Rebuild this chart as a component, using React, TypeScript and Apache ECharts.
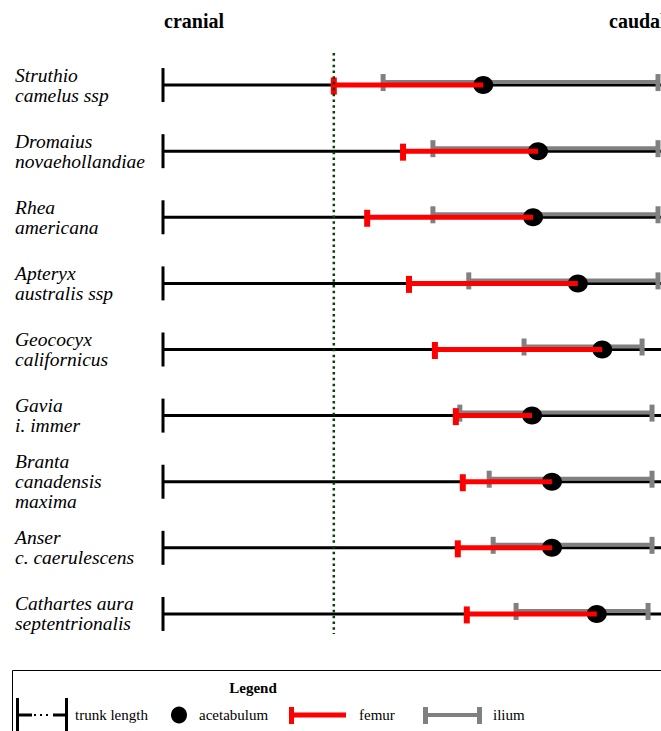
import React, { useEffect, useRef } from "react";
import * as echarts from "echarts";

// Species (top to bottom)
const species = [
  "Struthio\ncamelus ssp",
  "Dromaius\nnovaehollandiae",
  "Rhea\namericana",
  "Apteryx\naustralis ssp",
  "Geococyx\ncalifornicus",
  "Gavia\ni. immer",
  "Branta\ncanadensis\nmaxima",
  "Anser\nc. caerulescens",
  "Cathartes aura\nseptentrionalis",
];

// Positions as a proportion of trunk length (0 = cranial end)
const femurStart = [0.343, 0.482, 0.41, 0.494, 0.546, 0.588, 0.602, 0.592, 0.61];
const acetabulum = [0.643, 0.753, 0.743, 0.833, 0.882, 0.741, 0.781, 0.781, 0.871];
const iliumStart = [0.442, 0.542, 0.542, 0.614, 0.725, 0.596, 0.655, 0.663, 0.709];
const iliumEnd = [0.994, 0.994, 0.994, 0.994, 0.962, 0.982, 0.982, 0.982, 0.974];
const dividerX = 0.343;
const trunkEnd = 1.05;

const SERIF = "'Liberation Serif', 'Times New Roman', serif";

export default function App() {
  const ref = useRef<HTMLDivElement>(null);
  useEffect(() => {
    if (!ref.current) return;
    const chart = echarts.init(ref.current, null, { renderer: "svg" });
    const rows = species.map((_, i) => [i, femurStart[i], acetabulum[i], iliumStart[i], iliumEnd[i]]);

    const renderRow = (params: any, api: any) => {
      const r = api.value(0);
      const c = (x: number) => api.coord([x, r]);
      const y = c(0)[1];
      const x0 = c(0)[0];
      const xe = c(trunkEnd)[0];
      const fs = c(api.value(1))[0];
      const ac = c(api.value(2))[0];
      const is = c(api.value(3))[0];
      const ie = c(api.value(4))[0];
      const gy = y - 3;
      return {
        type: "group",
        children: [
          { type: "line", shape: { x1: x0, y1: y, x2: xe, y2: y }, style: { stroke: "#000", lineWidth: 3 } },
          { type: "line", shape: { x1: x0, y1: y - 17, x2: x0, y2: y + 17 }, style: { stroke: "#000", lineWidth: 3 } },
          { type: "line", shape: { x1: is, y1: gy, x2: ie, y2: gy }, style: { stroke: "#808080", lineWidth: 4 } },
          { type: "rect", shape: { x: is - 2.5, y: gy - 8, width: 5, height: 17 }, style: { fill: "#808080" } },
          { type: "rect", shape: { x: ie - 2.5, y: gy - 8, width: 5, height: 17 }, style: { fill: "#808080" } },
          { type: "ellipse", shape: { cx: ac, cy: y, rx: 10, ry: 9 }, style: { fill: "#000" } },
          { type: "line", shape: { x1: fs, y1: y, x2: ac, y2: y }, style: { stroke: "#ff0000", lineWidth: 5 } },
          { type: "rect", shape: { x: fs - 3, y: y - 7.5, width: 6, height: 17 }, style: { fill: "#ff0000" } },
        ],
      };
    };

    const renderDivider = (params: any, api: any) => {
      const x = api.value(0);
      const top = api.coord([x, 0]);
      const bot = api.coord([x, species.length - 1]);
      return {
        type: "line",
        shape: { x1: top[0], y1: top[1] - 32, x2: bot[0], y2: bot[1] + 20 },
        style: { stroke: "#0a400a", lineWidth: 2.5, lineDash: [2.5, 3.3] },
      };
    };

    const lt = 715;
    chart.setOption({
      animation: false,
      backgroundColor: "#fff",
      grid: { left: 163, right: 0, top: 52, bottom: 84, containLabel: false },
      xAxis: { type: "value", min: 0, max: 1, show: false },
      yAxis: {
        type: "category",
        inverse: true,
        data: species,
        axisLine: { show: false },
        axisTick: { show: false },
        splitLine: { show: false },
        axisLabel: {
          align: "left",
          margin: 148,
          fontFamily: SERIF,
          fontStyle: "italic",
          fontSize: 19.5,
          lineHeight: 20,
          color: "#000",
        },
      },
      series: [
        {
          type: "custom",
          renderItem: renderRow,
          data: rows,
          clip: false,
          z: 2,
        },
        {
          type: "custom",
          renderItem: renderDivider,
          data: [[dividerX, 0]],
          encode: { x: 0, y: 1 },
          clip: false,
          z: 5,
        },
      ],
      graphic: [
        { type: "text", x: 164, y: 21, style: { text: "cranial", font: `bold 20px ${SERIF}`, fill: "#000", textVerticalAlign: "middle" } },
        { type: "text", x: 609, y: 21, style: { text: "caudal", font: `bold 20px ${SERIF}`, fill: "#000", textVerticalAlign: "middle" } },
        { type: "rect", shape: { x: 12.5, y: 670.5, width: 700, height: 100 }, style: { fill: "none", stroke: "#000", lineWidth: 1 } },
        { type: "text", x: 253, y: 688, style: { text: "Legend", font: `bold 15px ${SERIF}`, fill: "#000", textAlign: "center", textVerticalAlign: "middle" } },
        // trunk length symbol
        { type: "line", shape: { x1: 17.5, y1: 698, x2: 17.5, y2: 735 }, style: { stroke: "#000", lineWidth: 3 } },
        { type: "line", shape: { x1: 66.5, y1: 698, x2: 66.5, y2: 735 }, style: { stroke: "#000", lineWidth: 3 } },
        { type: "line", shape: { x1: 17, y1: lt, x2: 32, y2: lt }, style: { stroke: "#000", lineWidth: 3 } },
        { type: "line", shape: { x1: 34, y1: lt, x2: 52, y2: lt }, style: { stroke: "#000", lineWidth: 2, lineDash: [2, 4] } },
        { type: "line", shape: { x1: 53, y1: lt, x2: 67, y2: lt }, style: { stroke: "#000", lineWidth: 3 } },
        { type: "text", x: 75, y: lt, style: { text: "trunk length", font: `15px ${SERIF}`, fill: "#000", textVerticalAlign: "middle" } },
        // acetabulum symbol
        { type: "ellipse", shape: { cx: 179, cy: lt, rx: 8, ry: 8.5 }, style: { fill: "#000" } },
        { type: "text", x: 199, y: lt, style: { text: "acetabulum", font: `15px ${SERIF}`, fill: "#000", textVerticalAlign: "middle" } },
        // femur symbol
        { type: "rect", shape: { x: 289, y: 707, width: 5, height: 17 }, style: { fill: "#ff0000" } },
        { type: "line", shape: { x1: 291, y1: lt, x2: 346, y2: lt }, style: { stroke: "#ff0000", lineWidth: 5 } },
        { type: "text", x: 359, y: lt, style: { text: "femur", font: `15px ${SERIF}`, fill: "#000", textVerticalAlign: "middle" } },
        // ilium symbol
        { type: "rect", shape: { x: 423, y: 707, width: 5, height: 17 }, style: { fill: "#808080" } },
        { type: "rect", shape: { x: 477, y: 707, width: 5, height: 17 }, style: { fill: "#808080" } },
        { type: "line", shape: { x1: 425, y1: lt, x2: 480, y2: lt }, style: { stroke: "#808080", lineWidth: 4 } },
        { type: "text", x: 493, y: lt, style: { text: "ilium", font: `15px ${SERIF}`, fill: "#000", textVerticalAlign: "middle" } },
      ],
    });
    return () => chart.dispose();
  }, []);

  return (
    <div
      ref={ref}
      style={{ position: "fixed", left: 0, top: 0, width: 661, height: 731, background: "#fff" }}
    />
  );
}
